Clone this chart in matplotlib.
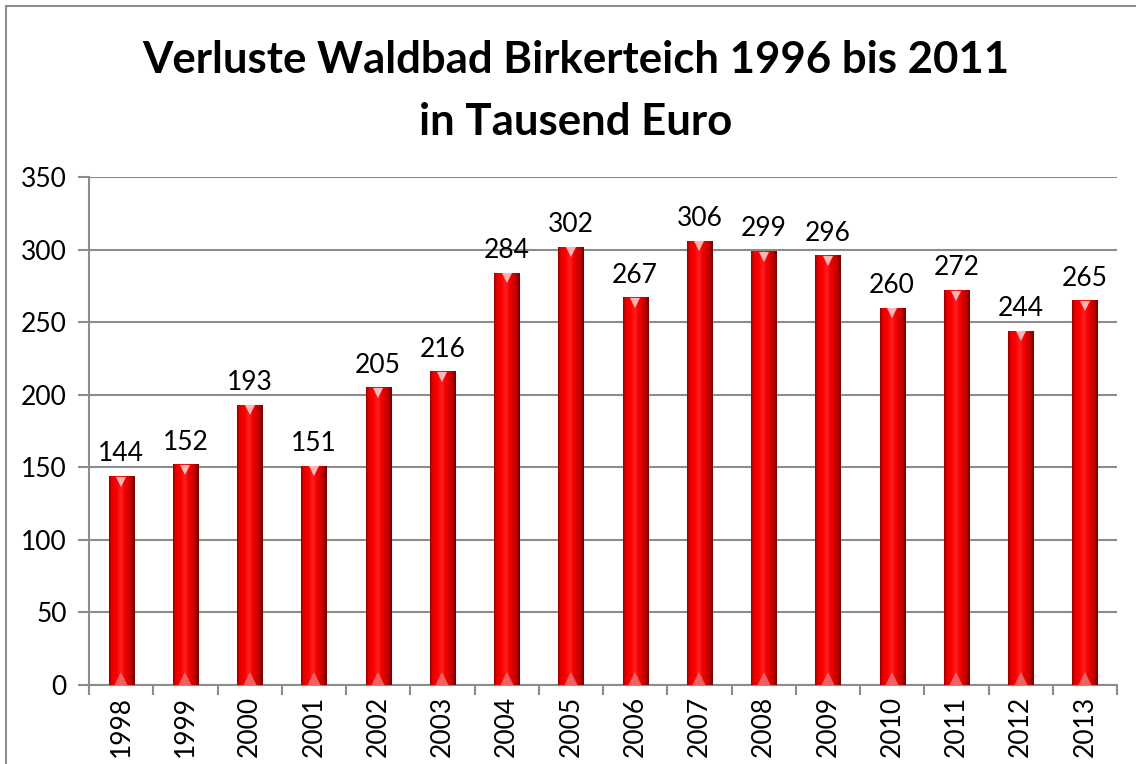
import numpy as np
import matplotlib
matplotlib.use("Agg")
from matplotlib import pyplot as plt
from matplotlib.colors import LinearSegmentedColormap
from matplotlib.patches import Rectangle
from matplotlib.transforms import ScaledTranslation

# data
years = ["1998", "1999", "2000", "2001", "2002", "2003", "2004", "2005",
         "2006", "2007", "2008", "2009", "2010", "2011", "2012", "2013"]
losses = [144, 152, 193, 151, 205, 216, 284, 302,
          267, 306, 299, 296, 260, 272, 244, 265]
y_ticks = [0, 50, 100, 150, 200, 250, 300, 350]
title = "Verluste Waldbad Birkerteich 1996 bis 2011\nin Tausend Euro"

plt.rcParams["font.family"] = ["Lato", "DejaVu Sans"]

fig = plt.figure(figsize=(11.36, 7.64), dpi=100)
ax = fig.add_axes([89 / 1136, 1 - 685 / 764, 1028 / 1136, 508 / 764])

# outer chart border (runs off the right and bottom of the image)
fig.patches.append(Rectangle((6 / 1136, -0.05), 1.2, 1 - 6 / 764 + 0.05,
                             transform=fig.transFigure, fill=False,
                             edgecolor="#8c8c8c", linewidth=1.5, zorder=0))

x = np.arange(len(years))
width = 0.39

# bevel-like horizontal gradient for the bars
bar_cmap = LinearSegmentedColormap.from_list(
    "bevel", [(0.0, "#900000"), (0.08, "#e00000"), (0.3, "#ff0000"),
              (0.45, "#ff2020"), (0.62, "#f00000"), (0.85, "#c00000"),
              (1.0, "#700000")])
grad = np.linspace(0, 1, 64).reshape(1, -1)

bars = ax.bar(x, losses, width=width, color="#f00000", edgecolor="#f4b0b0",
              linewidth=0.8, zorder=3)
for b in bars:
    x0, w, h = b.get_x(), b.get_width(), b.get_height()
    im = ax.imshow(grad, cmap=bar_cmap, aspect="auto", extent=(x0, x0 + w, 0, h),
                   zorder=3.5, interpolation="bicubic")
    im.set_clip_path(b)

# highlight triangles at the top and bottom of each bar
top_off = ax.transData + ScaledTranslation(0, -4 / 72, fig.dpi_scale_trans)
ax.plot(x, losses, linestyle="none", marker="v", markersize=7,
        color="#ffe0e0", alpha=0.8, markeredgewidth=0, transform=top_off, zorder=4)
bot_off = ax.transData + ScaledTranslation(0, 4 / 72, fig.dpi_scale_trans)
ax.plot(x, np.zeros(len(x)), linestyle="none", marker="^", markersize=10,
        color="#f07070", alpha=0.85, markeredgewidth=0, transform=bot_off, zorder=4)

for xi, v in zip(x, losses):
    ax.annotate(str(v), (xi, v), xytext=(0, 7), textcoords="offset points",
                ha="center", va="bottom", fontsize=19, color="black", zorder=5)

ax.set_xlim(-0.5, len(years) - 0.5)
ax.set_ylim(0, 350)
ax.set_yticks(y_ticks)
ax.set_xticks(x)
ax.set_xticklabels(years, rotation=90, fontsize=19)
ax.set_xticks(np.arange(len(years) + 1) - 0.5, minor=True)
ax.tick_params(axis="x", which="major", length=0, pad=8)
ax.tick_params(axis="x", which="minor", length=7, width=1.5, color="#8c8c8c")
ax.tick_params(axis="y", length=8, width=1.5, color="#8c8c8c", labelsize=19, pad=8)

ax.yaxis.grid(True, color="#8c8c8c", linewidth=1.5, zorder=0)
ax.set_axisbelow(True)
for s in ["top", "right"]:
    ax.spines[s].set_visible(False)
for s in ["left", "bottom"]:
    ax.spines[s].set_color("#8c8c8c")
    ax.spines[s].set_linewidth(1.5)

fig.text(576 / 1136, 1 - 91 / 764, title, ha="center", va="center", fontsize=31.5,
         fontweight="bold", linespacing=1.65)

fig.savefig("out.png", dpi=100)
